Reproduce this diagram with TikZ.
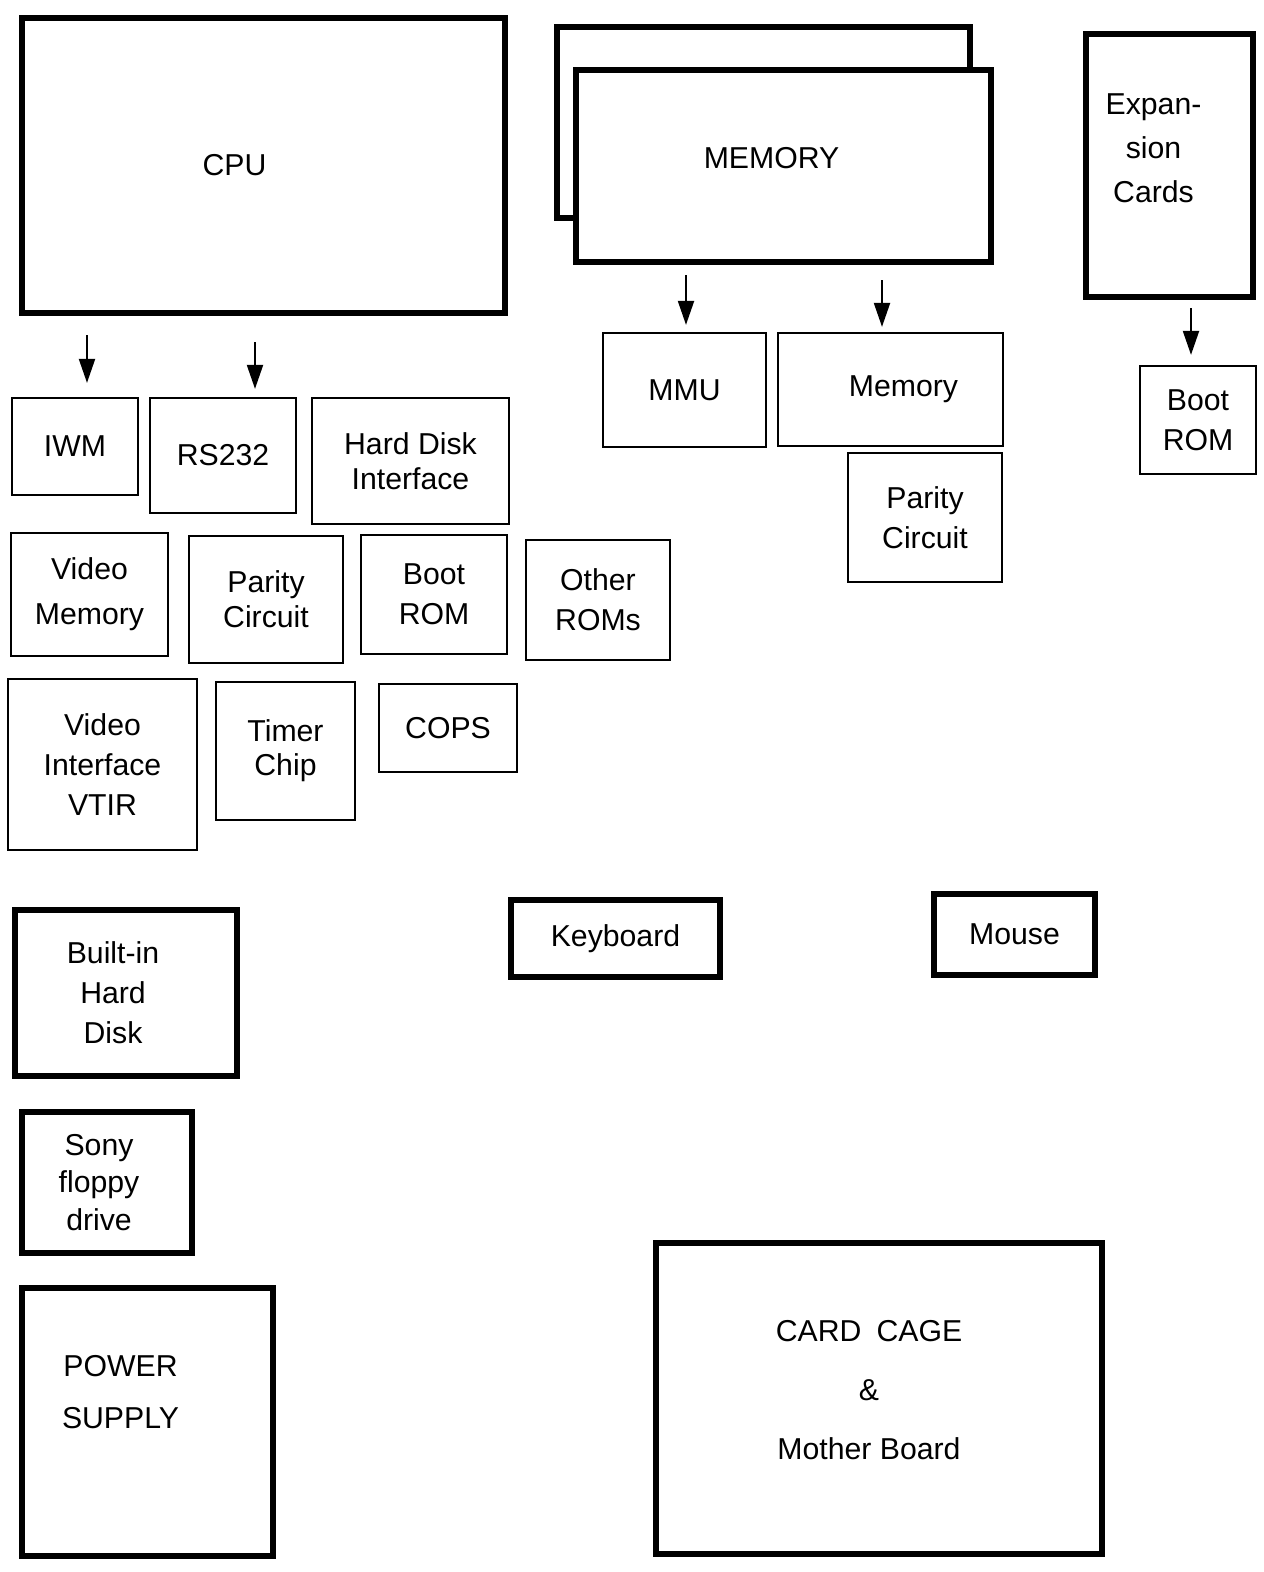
\documentclass[tikz,border=0pt]{standalone}
\usepackage{fontspec}
\setmainfont{Liberation Sans}
\usetikzlibrary{arrows.meta}

\begin{document}
\begin{tikzpicture}[x=0.02cm, y=-0.02cm,
  font=\fontsize{17.2}{22.8}\selectfont,
  bigbox/.style={draw, line width=3.2pt, fill=white, align=center, inner sep=0pt},
  smallbox/.style={draw, line width=1.3pt, align=center, inner sep=0pt},
  boxtext/.style={align=center, inner sep=0pt},
  flow/.style={-{Triangle[length=0.48cm, width=0.32cm]}, line width=1.2pt}]

\useasboundingbox (0,0) rectangle (1264,1572);

% Top row: processor, memory boards, expansion
\node[bigbox, minimum width=9.66cm, minimum height=5.9cm,
  label={[boxtext, name=cpuText, xshift=-0.58cm]center:CPU}] (cpu) at (263.5,165.5) {};
\node[bigbox, minimum width=8.26cm, minimum height=3.82cm] (memback) at (763.5,122.5) {};
\node[bigbox, minimum width=8.3cm, minimum height=3.84cm,
  label={[boxtext, name=memText, xshift=-0.24cm, yshift=0.16cm]center:MEMORY}] (mem) at (783.5,166) {};
\node[bigbox, minimum width=3.34cm, minimum height=5.26cm,
  label={[boxtext, name=expText, xshift=-0.32cm, yshift=0.34cm,
    font=\fontsize{17.2}{25}\selectfont]center:{Expan-\\sion\\Cards}}] (exp) at (1169.5,165.5) {};

% CPU board parts
\node[smallbox, minimum width=2.52cm, minimum height=1.94cm] (iwm) at (75,446.5) {IWM};
\node[smallbox, minimum width=2.92cm, minimum height=2.3cm] (rs) at (223,455.5) {RS232};
\node[smallbox, minimum width=3.94cm, minimum height=2.52cm,
  font=\fontsize{17.2}{20}\selectfont] (hdi) at (410.5,461) {Hard Disk\\Interface};
\node[smallbox, minimum width=3.14cm, minimum height=2.46cm,
  font=\fontsize{17.2}{25.5}\selectfont] (vmem) at (89.5,594.5) {Video\\Memory};
\node[smallbox, minimum width=3.08cm, minimum height=2.54cm,
  font=\fontsize{17.2}{20}\selectfont] (parA) at (266,599.5) {Parity\\Circuit};
\node[smallbox, minimum width=2.92cm, minimum height=2.38cm] (bootA) at (434,594.5) {Boot\\ROM};
\node[smallbox, minimum width=2.88cm, minimum height=2.4cm] (roms) at (598,600) {Other\\ROMs};
\node[smallbox, minimum width=3.78cm, minimum height=3.42cm] (vtir) at (102.5,764.5) {Video\\Interface\\VTIR};
\node[smallbox, minimum width=2.78cm, minimum height=2.76cm,
  font=\fontsize{17.2}{19.5}\selectfont] (timer) at (285.5,751) {Timer\\Chip};
\node[smallbox, minimum width=2.76cm, minimum height=1.76cm] (cops) at (448,728) {COPS};

% Memory board parts
\node[smallbox, minimum width=3.26cm, minimum height=2.28cm] (mmu) at (684.5,390) {MMU};
\node[smallbox, minimum width=4.5cm, minimum height=2.26cm,
  label={[boxtext, name=ramText, xshift=0.26cm]center:Memory}] (ram) at (890.5,389.5) {};
\node[smallbox, minimum width=3.08cm, minimum height=2.58cm] (parB) at (925,517.5) {Parity\\Circuit};

% Expansion card part
\node[smallbox, minimum width=2.32cm, minimum height=2.16cm] (bootB) at (1198,420) {Boot\\ROM};

% Peripherals
\node[bigbox, minimum width=4.44cm, minimum height=3.32cm,
  label={[boxtext, name=hdText, xshift=-0.26cm]center:{Built-in\\Hard\\Disk}}] (hd) at (126,993) {};
\node[bigbox, minimum width=4.18cm, minimum height=1.54cm] (kbd) at (615.5,938.5) {Keyboard};
\node[bigbox, minimum width=3.22cm, minimum height=1.62cm] (mouse) at (1014.5,934.5) {Mouse};
\node[bigbox, minimum width=3.4cm, minimum height=2.82cm,
  label={[boxtext, name=sonyText, xshift=-0.16cm,
    font=\fontsize{17.2}{21.4}\selectfont]center:{Sony\\floppy\\drive}}] (sony) at (107,1182.5) {};
\node[bigbox, minimum width=5.02cm, minimum height=5.36cm,
  label={[boxtext, name=psuText, xshift=-0.54cm, yshift=0.6cm,
    font=\fontsize{17.2}{30}\selectfont]center:{POWER\\SUPPLY}}] (psu) at (147.5,1422) {};
\node[bigbox, minimum width=8.92cm, minimum height=6.22cm,
  label={[boxtext, name=cageText, xshift=-0.2cm, yshift=0.16cm,
    font=\fontsize{17.2}{33.6}\selectfont]center:{CARD\hspace{0.5em}CAGE\\\&\\Mother Board}}] (cage) at (879,1398.5) {};

% Arrows
\coordinate (cpuOutA) at (87,335);
\coordinate (cpuOutB) at (255,342);
\coordinate (memOutA) at (686,275);
\coordinate (memOutB) at (882,280);
\coordinate (expOut) at (1191,308);
\draw[flow, shorten >=0.28cm] (cpuOutA) -- (cpuOutA |- iwm.north);
\draw[flow, shorten >=0.16cm] (cpuOutB) -- (cpuOutB |- rs.north);
\draw[flow, shorten >=0.14cm] (memOutA) -- (memOutA |- mmu.north);
\draw[flow, shorten >=0.1cm] (memOutB) -- (memOutB |- ram.north);
\draw[flow, shorten >=0.2cm] (expOut) -- (expOut |- bootB.north);

\end{tikzpicture}
\end{document}
